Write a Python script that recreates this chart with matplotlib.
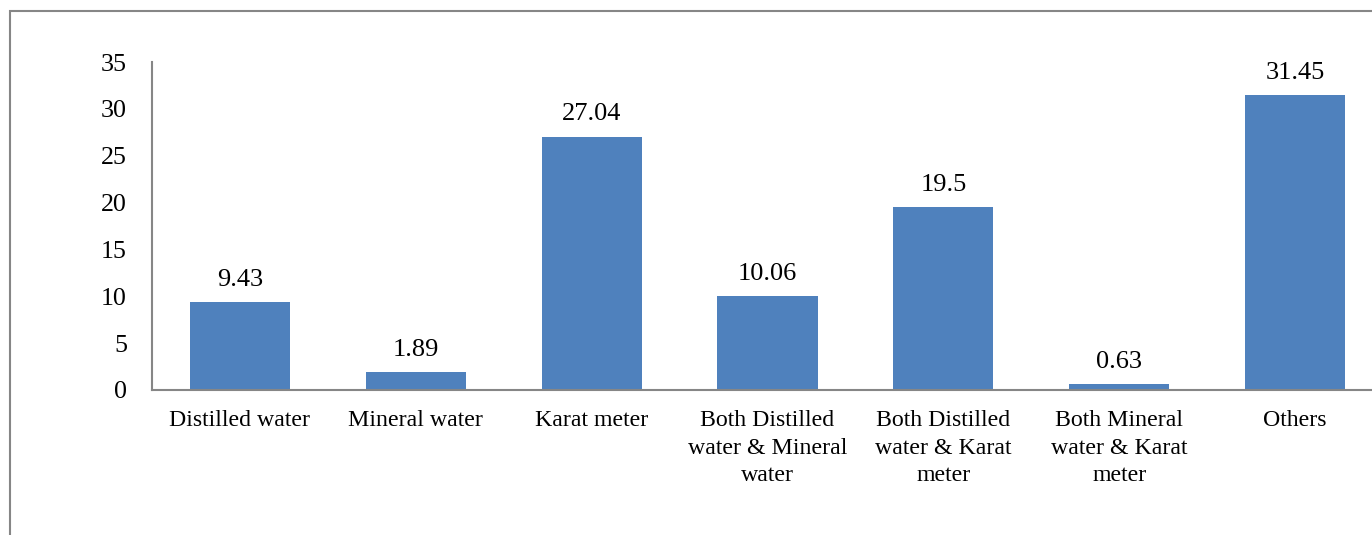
import matplotlib.pyplot as plt
from matplotlib.patches import Rectangle

categories = ['Distilled water', 'Mineral water', 'Karat meter',
              'Both Distilled\nwater & Mineral\nwater',
              'Both Distilled\nwater & Karat\nmeter',
              'Both Mineral\nwater & Karat\nmeter',
              'Others']
values = [9.43, 1.89, 27.04, 10.06, 19.5, 0.63, 31.45]
value_labels = ['9.43', '1.89', '27.04', '10.06', '19.5', '0.63', '31.45']
y_ticks = [0, 5, 10, 15, 20, 25, 30, 35]

plt.rcParams['font.family'] = ['Liberation Serif', 'DejaVu Serif']

W, H = 1372, 535
fig = plt.figure(figsize=(W / 100, H / 100), dpi=100)

# outer chart border (runs off the right and bottom edges)
fig.patches.append(Rectangle((10 / W, -0.2), 1.5, (H - 11) / H + 0.2,
                             transform=fig.transFigure, fill=False,
                             edgecolor='#868686', linewidth=1.5))

ax = fig.add_axes([152 / W, (H - 390) / H, (1383 - 152) / W, 328 / H])
x = range(len(categories))
ax.bar(x, values, width=0.57, color='#4F81BD')

for i, v in enumerate(values):
    ax.annotate(value_labels[i], (i, v), xytext=(0, 8), textcoords='offset points',
                ha='center', va='bottom', fontsize=19)

ax.set_xlim(-0.5, len(categories) - 0.5)
ax.set_ylim(0, 35)
ax.set_yticks(y_ticks)
ax.set_xticks(list(x))
ax.set_xticklabels(categories, fontsize=17.2, linespacing=1.41)
ax.tick_params(axis='y', labelsize=18.7, length=0, pad=18)
ax.tick_params(axis='x', length=0, pad=14.5)

for s in ['top', 'right']:
    ax.spines[s].set_visible(False)
for s in ['left', 'bottom']:
    ax.spines[s].set_color('#868686')
    ax.spines[s].set_linewidth(1.5)

fig.savefig('out.png', dpi=100)
